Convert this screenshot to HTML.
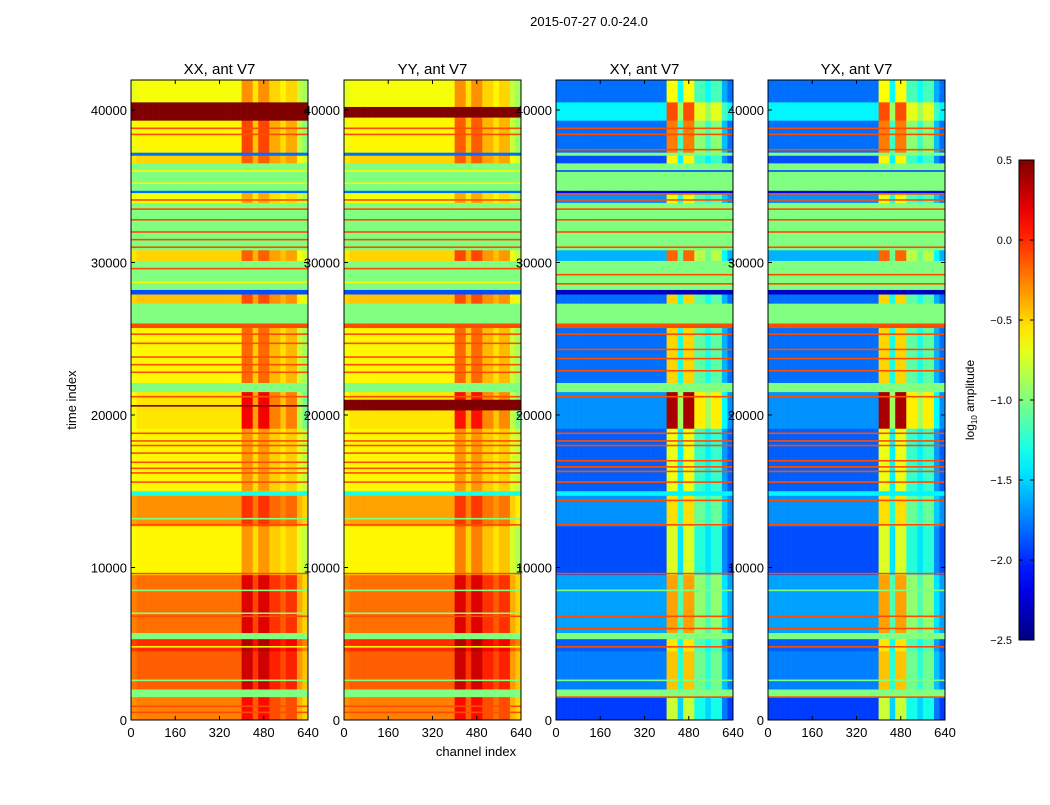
<!DOCTYPE html>
<html><head><meta charset="utf-8"><style>
body{margin:0;background:#fff;}
svg text{font-family:"Liberation Sans","DejaVu Sans",sans-serif;fill:#000;}
</style></head><body>
<svg id="fig" width="1050" height="800" xmlns="http://www.w3.org/2000/svg">
<rect width="1050" height="800" fill="#fff"/>
<text x="589" y="26" font-size="13" text-anchor="middle">2015-07-27 0.0-24.0</text>
<text x="476" y="756" font-size="13" text-anchor="middle">channel index</text>
<text transform="translate(76,400) rotate(-90)" font-size="13" text-anchor="middle">time index</text>
<g id="panels"></g>
<g id="cbar"></g>
</svg>
<script>
const panelTitles = ["XX, ant V7","YY, ant V7","XY, ant V7","YX, ant V7"];
const xTicks = [0,160,320,480,640];
const yTicks = [0,10000,20000,30000,40000];
const cbTicks = [0.5,0.0,-0.5,-1.0,-1.5,-2.0,-2.5];
const cbTickLabels = ["0.5","0.0","\u22120.5","\u22121.0","\u22121.5","\u22122.0","\u22122.5"];
// bands: [tStart, tEnd, log10 amplitude, channel-structure weight]
const xxBands = [[40500,42000,-0.65,1],[39300,40500,0.5,0],[37200,39300,-0.6,1.5],[37000,37200,-1.8,0],[36500,37000,-0.5,1],[34700,36500,-1.0,0],[34550,34700,-1.8,0],[33900,34550,-0.65,0.8],[30800,33900,-1.0,0],[30100,30800,-0.5,1],[28200,30100,-1.0,0],[27900,28200,-1.9,0],[27300,27900,-0.45,1],[26000,27300,-1.0,0],[25700,26000,-0.1,0],[22100,25700,-0.6,1.2],[21500,22100,-1.0,0],[19100,21500,-0.55,2],[15000,19100,-0.6,0.8],[14700,15000,-1.3,0],[12700,14700,-0.3,0.8],[9500,12700,-0.6,0.8],[5700,9500,-0.2,1.2],[5300,5700,-1.0,0],[4500,5300,0.0,1],[2000,4500,-0.15,1.2],[1500,2000,-1.0,0],[0,1500,-0.25,1]];
const yyBands = [[40200,42000,-0.65,1],[39500,40200,0.5,0],[37200,39500,-0.6,1.3],[37000,37200,-1.8,0],[36500,37000,-0.5,1],[34700,36500,-1.0,0],[34550,34700,-1.8,0],[33900,34550,-0.65,0.8],[30800,33900,-1.0,0],[30100,30800,-0.5,1.2],[28200,30100,-1.0,0],[27900,28200,-1.9,0],[27300,27900,-0.45,1],[26000,27300,-1.0,0],[25700,26000,-0.1,0],[22100,25700,-0.6,1.2],[21500,22100,-1.0,0],[21000,21500,-0.55,1.8],[20300,21000,0.5,0],[19100,20300,-0.55,1.8],[15000,19100,-0.6,0.8],[14700,15000,-1.3,0],[12700,14700,-0.35,0.9],[9500,12700,-0.6,1],[5700,9500,-0.2,1.2],[5300,5700,-1.0,0],[4500,5300,0.0,1],[2000,4500,-0.15,1.2],[1500,2000,-1.0,0],[0,1500,-0.25,1]];
const xyBands = [[40500,42000,-1.8,0.9],[39300,40500,-1.4,1],[37200,39300,-1.8,1.2],[37000,37200,-1.0,0],[36500,37000,-1.9,1],[34700,36500,-1.0,0],[34550,34700,-2.2,0],[33900,34550,-1.7,0.8],[30800,33900,-1.0,0],[30100,30800,-1.6,1.1],[28200,30100,-1.0,0],[27900,28200,-2.3,0],[27300,27900,-1.8,1],[26000,27300,-1.0,0],[25700,26000,-0.1,0],[22100,25700,-1.8,1],[21500,22100,-1.0,0],[19100,21500,-1.7,1.6],[15000,19100,-1.85,0.9],[14700,15000,-1.4,0],[12700,14700,-1.7,0.9],[9500,12700,-1.9,0.9],[5700,9500,-1.65,1],[5300,5700,-1.0,0],[4500,5300,-1.85,1],[2000,4500,-1.75,1],[1500,2000,-1.0,0],[0,1500,-1.95,0.9]];
const yxBands = [[40500,42000,-1.8,0.9],[39300,40500,-1.4,1],[37200,39300,-1.8,1.2],[37000,37200,-1.0,0],[36500,37000,-1.9,1],[34700,36500,-1.0,0],[34550,34700,-2.2,0],[33900,34550,-1.7,0.8],[30800,33900,-1.0,0],[30100,30800,-1.6,1.1],[28200,30100,-1.0,0],[27900,28200,-2.3,0],[27300,27900,-1.8,1],[26000,27300,-1.0,0],[25700,26000,-0.1,0],[22100,25700,-1.8,1],[21500,22100,-1.0,0],[19100,21500,-1.7,1.6],[15000,19100,-1.85,0.9],[14700,15000,-1.4,0],[12700,14700,-1.7,0.9],[9500,12700,-1.9,0.9],[5700,9500,-1.65,1],[5300,5700,-1.0,0],[4500,5300,-1.85,1],[2000,4500,-1.75,1],[1500,2000,-1.0,0],[0,1500,-1.95,0.9]];
// per-20-channel offsets (32 bins)
const parColOffsets = [-0.05,0,0,0,0,0,0,0,0,0,0,0,0,0,0,0,0,0,0,0,0.35,0.35,0.1,0.35,0.35,0.15,0.15,0.05,0.15,0.15,-0.15,-0.25];
const crossColOffsets = [0,0,0,0,0,0,0,0,0,0,0,0,0,0,0,0,0,0,0,0,1.3,1.3,0.5,1.3,1.3,0.7,0.7,0.5,0.7,0.7,0.2,0];
// thin streak lines: [time, log10 amplitude]
const xxLines = [[38800,-0.1],[38400,-0.1],[36000,-0.6],[35200,-0.6],[34100,-0.1],[33500,-0.1],[32800,-0.1],[32000,-0.1],[31500,-0.1],[31000,-0.1],[29600,-0.1],[28700,-0.6],[25300,-0.1],[24700,-0.1],[23800,-0.1],[23300,-0.1],[22800,-0.1],[21200,-0.1],[20600,0.5],[18800,-0.1],[18300,-0.1],[18000,-0.1],[17500,-0.1],[16900,-0.1],[16500,-0.1],[16200,-0.1],[15600,-0.1],[13200,-1.0],[12800,-0.1],[9600,-0.1],[8500,-1.0],[7000,-1.0],[6800,-0.1],[4800,-0.6],[2600,-1.0],[900,-0.1],[500,-0.1]];
const crossLines = [[38800,-0.1],[38400,-0.1],[37400,-0.1],[36000,-1.9],[34500,-0.1],[34100,-0.1],[33500,-0.1],[32800,-0.1],[32000,-0.1],[31000,-0.1],[29200,-0.1],[28600,-0.1],[25300,-0.1],[24300,-0.1],[23700,-0.1],[22900,-0.1],[21200,-0.1],[18800,-0.1],[18300,-0.1],[18000,-0.1],[17000,-0.1],[16600,-0.1],[16300,-0.1],[15600,-0.1],[14400,-0.1],[12800,-0.1],[9600,-0.1],[8500,-1.0],[6800,-0.1],[6000,-0.1],[4800,-0.1],[2600,-1.0],[1500,-0.1]];

const panelData = [[xxBands,parColOffsets,xxLines],[yyBands,parColOffsets,xxLines],[xyBands,crossColOffsets,crossLines],[yxBands,crossColOffsets,crossLines]];
const panelX = [131,344,556,768], pw = 177, pTop = 80, pBot = 720, tMax = 41967;
const vmin=-2.5, vmax=0.5;
const NS="http://www.w3.org/2000/svg";
function clip(v){return Math.max(0,Math.min(1,v));}
function jet(v){const x=clip((v-vmin)/(vmax-vmin));const r=clip(1.5-Math.abs(4*x-3)),g=clip(1.5-Math.abs(4*x-2)),b=clip(1.5-Math.abs(4*x-1));return `rgb(${Math.round(r*255)},${Math.round(g*255)},${Math.round(b*255)})`;}
function mk(tag,attrs,parent){const e=document.createElementNS(NS,tag);for(const k in attrs)e.setAttribute(k,attrs[k]);parent.appendChild(e);return e;}
function yScale(t){return pBot-(t/tMax)*(pBot-pTop);}
const root=document.getElementById('panels');
panelData.forEach((pd,pi)=>{
  const x0=panelX[pi];
  const xScale=c=>x0+c/640*pw;
  const g=mk('g',{},root);
  
  
  const [bands,cols,lines]=pd;
  const hm=mk('g',{},g);
  
  
  bands.forEach(b=>{
    const y1=yScale(b[1]),y2=yScale(b[0]);
    cols.forEach((off,ci)=>{
      const r=mk('rect',{x:xScale(ci*20),y:y1,width:xScale((ci+1)*20)-xScale(ci*20)+0.3,height:y2-y1+0.3,fill:jet(b[2]+off*b[3])},hm);
      
      
    });
  });
  lines.forEach(l=>{
    const r=mk('rect',{x:x0,y:yScale(l[0])-0.8,width:pw,height:1.6,fill:jet(l[1])},hm);
    
    
  });
  const fr=mk('rect',{x:x0,y:pTop,width:pw,height:pBot-pTop,fill:'none',stroke:'#000','stroke-width':1},g);
  
  
  const tt=mk('text',{x:x0+pw/2,y:74,'font-size':15,'text-anchor':'middle'},g);
  tt.textContent=panelTitles[pi];
  
  
  xTicks.forEach(c=>{
    const x=xScale(c);
    mk('line',{x1:x,x2:x,y1:pBot,y2:pBot-4,stroke:'#000'},g);
    mk('line',{x1:x,x2:x,y1:pTop,y2:pTop+4,stroke:'#000'},g);
    const t=mk('text',{x:x,y:pBot+17,'font-size':13,'text-anchor':'middle'},g);
    t.textContent=c;
    
    
  });
  yTicks.forEach(v=>{
    const y=yScale(v);
    mk('line',{x1:x0,x2:x0+4,y1:y,y2:y,stroke:'#000'},g);
    mk('line',{x1:x0+pw,x2:x0+pw-4,y1:y,y2:y,stroke:'#000'},g);
    const t=mk('text',{x:x0-4,y:y+5,'font-size':13,'text-anchor':'end'},g);
    t.textContent=v;
    
    
  });
});
// colorbar
const cb=document.getElementById('cbar');


const cbX=1019,cbW=15,cbTop=160,cbBot=640;
const cbY=v=>cbBot-(v-vmin)/(vmax-vmin)*(cbBot-cbTop);
const defs=mk('defs',{},cb);
const lg=mk('linearGradient',{id:'jetg',x1:0,y1:1,x2:0,y2:0},defs);
for(let i=0;i<=20;i++){mk('stop',{offset:i/20,'stop-color':jet(vmin+(vmax-vmin)*i/20)},lg);}
mk('rect',{x:cbX,y:cbTop,width:cbW,height:cbBot-cbTop,fill:'url(#jetg)',stroke:'#000','stroke-width':1},cb);
cbTicks.forEach((v,i)=>{
  const y=cbY(v);
  mk('line',{x1:cbX,x2:cbX+4,y1:y,y2:y,stroke:'#000'},cb);
  mk('line',{x1:cbX+cbW,x2:cbX+cbW-4,y1:y,y2:y,stroke:'#000'},cb);
  const t=mk('text',{x:1012,y:y+4,'font-size':11,'text-anchor':'end'},cb);
  t.textContent=cbTickLabels[i];
  
  
});
const cl=mk('text',{transform:'translate(974,400) rotate(-90)','font-size':12,'text-anchor':'middle'},cb);
cl.innerHTML='log<tspan font-size="8" dy="3">10</tspan><tspan dy="-3"> amplitude</tspan>';


</script>
</body></html>
